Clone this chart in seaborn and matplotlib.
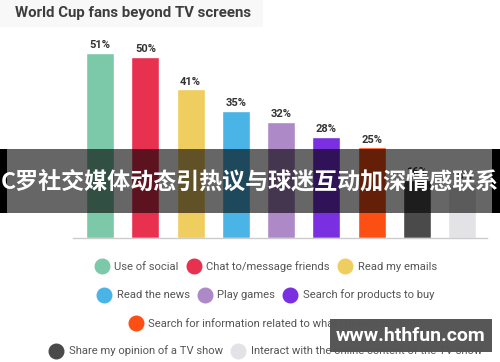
import matplotlib
matplotlib.use("Agg")
import matplotlib.pyplot as plt
from matplotlib.lines import Line2D
from matplotlib.patches import Rectangle
import seaborn as sns
import pandas as pd

categories = [
    "Use of social",
    "Chat to/message friends",
    "Read my emails",
    "Read the news",
    "Play games",
    "Search for products to buy",
    "Search for information related to what I'm watching",
    "Share my opinion of a TV show",
    "Interact with the online content of the TV show",
]
values = [51, 50, 41, 35, 32, 28, 25, 16, 15]
colors = ["#7bc9a9", "#e8304f", "#f0cd5f", "#4bb4e6", "#ad89c7",
          "#7a2fe0", "#fb4f14", "#4a4a4a", "#e3e3e7"]
legend_rows = [[0, 1, 2], [3, 4, 5], [6], [7, 8]]
title = "World Cup fans beyond TV screens"
banner_text = "C罗社交媒体动态引热议与球迷互动加深情感联系"
watermark = "www.hthfun.com"

sns.set_theme(style="white")
plt.rcParams["font.family"] = ["Roboto", "Noto Sans CJK SC", "DejaVu Sans"]

W, H = 500, 362
fig = plt.figure(figsize=(W / 100, H / 100), dpi=100)
fig.patch.set_facecolor("white")

# light panel behind title
fig.patches.append(Rectangle((0, 1 - 27 / H), 263 / W, 27 / H, transform=fig.transFigure,
                             facecolor="#f8f8f8", edgecolor="none", zorder=0))

ax = fig.add_axes([73 / W, 1 - 238 / H, 414 / W, 203 / H])
ax.set_facecolor("none")
df = pd.DataFrame({"cat": categories, "val": values})
sns.barplot(data=df, x="cat", y="val", hue="cat", palette=colors, order=categories,
            hue_order=categories, legend=False, width=0.62, saturation=1, ax=ax)
for c in ax.containers:
    ax.bar_label(c, fmt="%d%%", padding=2, fontsize=8, fontweight="bold", color="#333333")
ax.set_xlim(-0.6, 8.55)
ax.set_ylim(0, 56)
ax.set_xlabel("")
ax.set_ylabel("")
ax.set_xticks([])
ax.set_yticks([])
for s in ["left", "right", "top"]:
    ax.spines[s].set_visible(False)
ax.spines["bottom"].set_color("#cccccc")
ax.spines["bottom"].set_linewidth(1)

fig.text(15 / W, 1 - 13 / H, title, ha="left", va="center", fontsize=10.8,
         fontweight="bold", color="#3d3d3d")

row_y = [266.5, 295, 323.5, 351]
for row, y in zip(legend_rows, row_y):
    handles = [Line2D([], [], linestyle="none", marker="o", markersize=10.5,
                      markerfacecolor=colors[i], markeredgecolor=colors[i])
               for i in row]
    labels = [categories[i] for i in row]
    leg = fig.legend(handles, labels, loc="center", bbox_to_anchor=(266 / W, 1 - y / H),
                     ncol=len(row), frameon=False, fontsize=8.1, handlelength=1.15,
                     handletextpad=0.55, columnspacing=0.75, borderpad=0, borderaxespad=0)
    for t in leg.get_texts():
        t.set_color("#555555")

# banner overlay
fig.patches.append(Rectangle((0, 1 - 213 / H), 1, 64 / H, transform=fig.transFigure,
                             facecolor="black", alpha=0.6, edgecolor="none", zorder=5))
fig.patches.append(Rectangle((0, 1 - 213 / H), 7 / W, 64 / H, transform=fig.transFigure,
                             facecolor="black", edgecolor="none", zorder=6))
fig.patches.append(Rectangle((492 / W, 1 - 213 / H), 8 / W, 64 / H, transform=fig.transFigure,
                             facecolor="black", edgecolor="none", zorder=6))
fig.text(250 / W, 1 - 182 / H, banner_text, ha="center", va="center", fontsize=16.6,
         fontweight="bold", color="white", family=["Noto Sans CJK SC", "DejaVu Sans"],
         zorder=7)

# watermark
fig.patches.append(Rectangle((330 / W, 1 - 352 / H), 162 / W, 33 / H, transform=fig.transFigure,
                             facecolor="#3a3a3a", alpha=0.85, edgecolor="none", zorder=5))
fig.text(411 / W, 1 - 336 / H, watermark, ha="center", va="center", fontsize=14,
         fontweight="bold", color="white", family=["Roboto", "DejaVu Sans"], zorder=7)

fig.savefig("out.png", dpi=100)
